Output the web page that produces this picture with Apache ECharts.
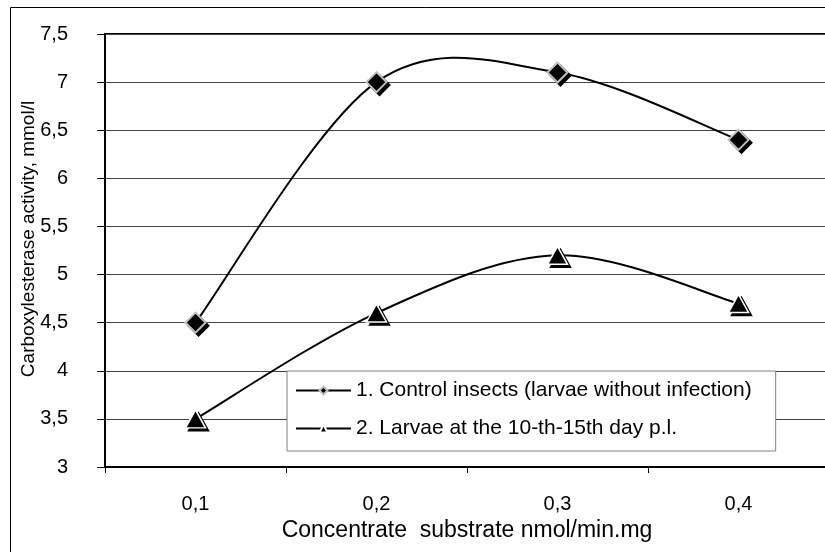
<!DOCTYPE html>
<html lang="en">
<head>
    <meta charset="UTF-8">
    <title>Carboxylesterase activity</title>
    <script src="https://cdn.jsdelivr.net/npm/echarts@6/dist/echarts.min.js"></script>
    <style>
        html, body {
            margin: 0;
            padding: 0;
            background: #fff;
            overflow: hidden;
        }

        #chart {
            width: 840px;
            height: 552px;
        }
    </style>
</head>
<body>
    <div id="chart"></div>
    <script>
        // data
        const categories = ['0,1', '0,2', '0,3', '0,4'];
        const controlValues = [4.5, 7.0, 7.1, 6.4];
        const larvaeValues = [3.5, 4.6, 5.2, 4.7];
        const seriesNames = [
            '1. Control insects (larvae without infection)',
            '2. Larvae at the 10-th-15th day p.l.'
        ];

        const font = 'Liberation Sans, Arial, sans-serif';
        const chart = echarts.init(document.getElementById('chart'));

        // Excel-like smoothed curve (Catmull-Rom -> cubic bezier) built from axis coords
        function smoothCurve(values) {
            return function (params, api) {
                const pts = values.map((v, i) => api.coord([i, v]));
                let d = 'M' + pts[0][0] + ' ' + pts[0][1];
                for (let i = 0; i < pts.length - 1; i++) {
                    const p0 = pts[Math.max(i - 1, 0)];
                    const p1 = pts[i];
                    const p2 = pts[i + 1];
                    const p3 = pts[Math.min(i + 2, pts.length - 1)];
                    const c1x = p1[0] + (p2[0] - p0[0]) / 6;
                    const c1y = p1[1] + (p2[1] - p0[1]) / 6;
                    const c2x = p2[0] - (p3[0] - p1[0]) / 6;
                    const c2y = p2[1] - (p3[1] - p1[1]) / 6;
                    d += ' C' + c1x + ' ' + c1y + ' ' + c2x + ' ' + c2y + ' ' + p2[0] + ' ' + p2[1];
                }
                return {
                    type: 'path',
                    shape: { pathData: d },
                    style: { fill: 'none', stroke: '#000', lineWidth: 2 },
                    silent: true
                };
            };
        }

        const markerBase = {
            type: 'line',
            lineStyle: { width: 0, opacity: 0 },
            z: 3
        };

        const option = {
            animation: false,
            backgroundColor: '#fff',
            textStyle: { fontFamily: font, color: '#000' },
            graphic: [{
                type: 'rect',
                shape: { x: 10.5, y: 7.5, width: 1000, height: 1000 },
                style: { fill: 'none', stroke: '#000', lineWidth: 1 },
                silent: true,
                z: 0
            }],
            grid: {
                left: 105,
                top: 34,
                width: 724,
                height: 433,
                show: true,
                borderColor: '#000',
                borderWidth: 2,
                backgroundColor: 'transparent'
            },
            legend: {
                orient: 'vertical',
                left: 287,
                top: 371,
                backgroundColor: '#fff',
                borderColor: '#808080',
                borderWidth: 1,
                borderRadius: 0,
                padding: [9, 24, 12, 8],
                itemWidth: 55,
                itemHeight: 10,
                itemGap: 17,
                textStyle: { fontFamily: font, fontSize: 21, color: '#000' },
                data: seriesNames.map(n => ({
                    name: n,
                    lineStyle: { width: 2, color: '#000', opacity: 1 }
                }))
            },
            xAxis: {
                type: 'category',
                data: categories,
                boundaryGap: true,
                name: 'Concentrate  substrate nmol/min.mg',
                nameLocation: 'middle',
                nameGap: 52,
                nameTextStyle: { fontFamily: font, fontSize: 23, color: '#000' },
                axisLine: { lineStyle: { color: '#000', width: 2 } },
                axisTick: { show: true, length: 6, lineStyle: { color: '#000' } },
                axisLabel: { fontFamily: font, fontSize: 20, color: '#000', margin: 27 },
                splitLine: { show: false }
            },
            yAxis: {
                type: 'value',
                min: 3,
                max: 7.5,
                interval: 0.5,
                name: 'Carboxylesterase activity, mmol/l',
                nameLocation: 'middle',
                nameGap: 67,
                nameMoveOverlap: false,
                nameTextStyle: {
                    fontFamily: font,
                    fontSize: 19,
                    color: '#000',
                    padding: [0, 0, 0, 23]
                },
                axisLine: { show: true, lineStyle: { color: '#000', width: 2 } },
                axisTick: { show: true, length: 8, lineStyle: { color: '#000' } },
                axisLabel: {
                    fontFamily: font,
                    fontSize: 20,
                    color: '#000',
                    margin: 37,
                    formatter: v => String(v).replace('.', ',')
                },
                splitLine: { show: true, lineStyle: { color: '#444', width: 1 } }
            },
            series: [
                {
                    type: 'custom',
                    name: 'curve1',
                    data: [[0, controlValues[0]]],
                    encode: { x: 0, y: 1 },
                    renderItem: smoothCurve(controlValues),
                    z: 2
                },
                {
                    type: 'custom',
                    name: 'curve2',
                    data: [[0, larvaeValues[0]]],
                    encode: { x: 0, y: 1 },
                    renderItem: smoothCurve(larvaeValues),
                    z: 2
                },
                Object.assign({}, markerBase, {
                    name: seriesNames[0],
                    data: controlValues,
                    symbol: 'diamond',
                    symbolSize: [20, 20],
                    itemStyle: {
                        color: '#000',
                        borderColor: '#c0c0c0',
                        borderWidth: 2,
                        shadowColor: '#000',
                        shadowOffsetX: 3,
                        shadowOffsetY: 3,
                        shadowBlur: 0
                    }
                }),
                Object.assign({}, markerBase, {
                    name: seriesNames[1],
                    data: larvaeValues,
                    symbol: 'triangle',
                    symbolSize: [20, 18],
                    itemStyle: {
                        color: '#000',
                        borderColor: '#fff',
                        borderWidth: 1.5,
                        shadowColor: '#000',
                        shadowOffsetX: 3,
                        shadowOffsetY: 3,
                        shadowBlur: 0
                    }
                })
            ]
        };

        chart.setOption(option);
    </script>
</body>
</html>
